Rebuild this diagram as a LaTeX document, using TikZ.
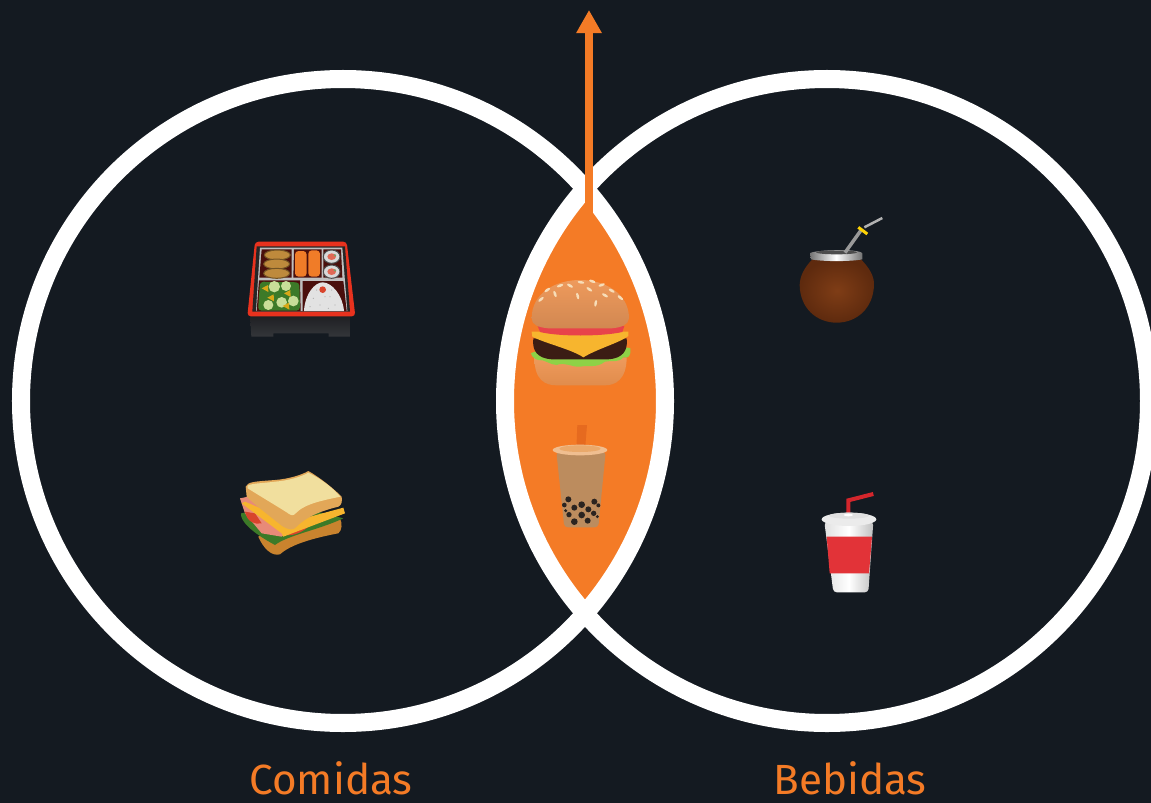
\documentclass[tikz,border=0pt]{standalone}
\usepackage{fontspec}
\setmainfont{Fira Sans}
\usepackage{xcolor}
\usepackage{tikz}
\usetikzlibrary{arrows.meta}

\definecolor{bgdark}{HTML}{141A21}
\definecolor{vennorange}{HTML}{F47B26}
\definecolor{boxred}{HTML}{E8321E}
\definecolor{boxdark}{HTML}{4A0F0C}
\definecolor{boxbase}{HTML}{34363A}
\definecolor{boxbasetop}{HTML}{1C1D20}
\definecolor{friedgold}{HTML}{BE8A3C}
\definecolor{sushiorange}{HTML}{F07C28}
\definecolor{leafgreen}{HTML}{3C7A28}
\definecolor{saladlight}{HTML}{C8DE98}
\definecolor{saladyellow}{HTML}{D8A818}
\definecolor{ricewhite}{HTML}{E2E2E2}
\definecolor{breadface}{HTML}{F1DF9E}
\definecolor{breadcrust}{HTML}{E2A758}
\definecolor{breadlow}{HTML}{C9832E}
\definecolor{hampink}{HTML}{E88A78}
\definecolor{tomatored}{HTML}{D8442C}
\definecolor{cheeseyellow}{HTML}{F7B52E}
\definecolor{buntop}{HTML}{EE9A5C}
\definecolor{bunlow}{HTML}{E08C4C}
\definecolor{seedcream}{HTML}{F7DDB8}
\definecolor{lettucegreen}{HTML}{8ED246}
\definecolor{pattybrown}{HTML}{3B1D14}
\definecolor{burgerred}{HTML}{E8434A}
\definecolor{strawtea}{HTML}{E66A1F}
\definecolor{teadark}{HTML}{BC8C5E}
\definecolor{tealight}{HTML}{E6BC88}
\definecolor{lidtea}{HTML}{F0BE90}
\definecolor{pearldark}{HTML}{2B2420}
\definecolor{matecenter}{HTML}{7F3D16}
\definecolor{mateouter}{HTML}{5E2A0E}
\definecolor{sodared}{HTML}{E23338}
\definecolor{strawred}{HTML}{D4262C}

\tikzset{
  vennring/.style={draw=white, line width=0.18cm},
  vennlabel/.style={text=vennorange, anchor=base, inner sep=0pt, font=\fontsize{12}{14}\selectfont},
  rollpiece/.style={fill=white!85!black, draw=black!70, line width=0.01cm},
  seedmark/.style={fill=seedcream},
  pearlmark/.style={fill=pearldark}
}

\begin{document}
\begin{tikzpicture}[x=0.01cm,y=-0.01cm]
  \useasboundingbox (0,0) rectangle (1151,803);
  \clip (0,0) rectangle (1151,803);
  \fill[bgdark] (0,0) rectangle (1151,803);

  % Lens
  \begin{scope}
    \clip (343,401) circle (322);
    \fill[vennorange] (827,401) circle (322);
  \end{scope}

  % Circles
  \draw[vennring] (343,401) circle (322);
  \draw[vennring] (827,401) circle (322);

  % Arrow
  \coordinate (arrowtail) at (589,215);
  \coordinate (arrowtip) at (589,10);
  \draw[vennorange, line width=0.08cm, -{Triangle[length=0.23cm, width=0.24cm]}] (arrowtail) -- (arrowtip);

  % Labels
  \node[vennlabel] (comidas) at (331,794) {Comidas};
  \node[vennlabel] (bebidas) at (850,794) {Bebidas};

  % Bento box
  \begin{scope}[shift={(230,225)}, scale=1/3]
    \shade[top color=boxbasetop, bottom color=boxbase] (60,265) -- (360,265) -- (360,335) -- (296,335) -- (296,325) -- (130,325) -- (130,335) -- (64,335) -- cycle;
    \fill[boxred, rounded corners=1pt] (75,50) -- (350,50) -- (376,274) -- (52,274) -- cycle;
    \fill[black!85] (80,64) -- (345,64) -- (360,260) -- (67,260) -- cycle;
    \fill[black!25] (90,68) -- (337,68) -- (352,258) -- (78,258) -- cycle;
    \fill[boxdark] (95,73) -- (185,73) -- (185,158) -- (88,158) -- cycle;
    \fill[boxdark] (192,73) -- (275,73) -- (275,158) -- (190,158) -- cycle;
    \fill[boxdark] (280,73) -- (333,73) -- (337,158) -- (280,158) -- cycle;
    \fill[boxdark] (87,166) -- (210,166) -- (212,258) -- (80,258) -- cycle;
    \fill[boxdark] (218,168) -- (340,168) -- (350,258) -- (218,258) -- cycle;
    \foreach \fy/\fx in {90/142, 117/140, 145/140}
      \filldraw[fill=friedgold, draw=friedgold!60!black, line width=0.01cm] (\fx,\fy) ellipse (39 and 15);
    \fill[sushiorange, rounded corners=1pt] (195,78) rectangle (230,155);
    \fill[sushiorange, rounded corners=1pt] (235,76) rectangle (270,155);
    \foreach \ry in {95,140} {
      \draw[rollpiece] (305,\ry) ellipse (25 and 20);
      \fill[tomatored!80!white] (305,\ry) ellipse (13 and 10);
      \fill[leafgreen!70] (315,\ry-4) circle (4);
    }
    \fill[leafgreen, rounded corners=1pt] (90,170) -- (208,172) -- (210,257) -- (84,257) -- cycle;
    \foreach \lx/\ly/\lr in {133/185/17, 168/183/15, 115/240/15, 155/232/16, 190/228/16}
      \fill[saladlight] (\lx,\ly) circle (\lr);
    \foreach \lx/\ly in {105/190, 122/218, 172/205, 168/243}
      \fill[saladyellow] (\lx-10,\ly) -- (\lx+9,\ly-10) -- (\lx+10,\ly+11) -- cycle;
    \fill[ricewhite] (222,258) .. controls (225,205) and (255,172) .. (278,172) .. controls (305,172) and (338,210) .. (342,258) -- cycle;
    \foreach \kx/\ky in {250/220, 270/240, 300/215, 315/240, 285/215, 240/245, 295/250, 260/195, 305/195}
      \fill[black!30] (\kx,\ky) circle (2);
    \fill[tomatored] (278,194) circle (10);
  \end{scope}

  % Sandwich
  \begin{scope}[shift={(225,455)}, scale=1/3]
    \fill[breadlow] (100,245) .. controls (115,280) and (140,305) .. (165,298) .. controls (195,270) and (260,250) .. (340,235) .. controls (352,225) and (352,205) .. (345,190) -- (200,180) -- cycle;
    \fill[leafgreen] (48,175) .. controls (45,200) and (85,235) .. (150,270) .. controls (190,240) and (280,225) .. (355,190) -- (200,150) -- cycle;
    \fill[hampink] (45,130) -- (70,125) -- (240,190) -- (170,245) -- (110,235) -- (60,175) -- cycle;
    \fill[tomatored] (60,170) .. controls (65,200) and (90,210) .. (110,205) -- (90,175) -- cycle;
    \fill[tomatored] (180,240) .. controls (210,245) and (240,225) .. (250,215) -- (200,215) -- cycle;
    \fill[cheeseyellow] (50,145) -- (170,235) -- (175,245) -- (360,175) -- (355,158) -- (200,200) -- (60,140) -- cycle;
    \fill[breadcrust] (62,95) .. controls (70,80) and (85,80) .. (150,75) .. controls (190,72) and (230,60) .. (250,48) .. controls (280,65) and (320,95) .. (350,125) .. controls (352,140) and (350,150) .. (340,155) .. controls (300,165) and (250,180) .. (215,215) .. controls (205,228) and (190,225) .. (170,212) .. controls (130,180) and (90,150) .. (65,125) -- cycle;
    \fill[breadface] (68,92) .. controls (80,85) and (110,85) .. (150,80) .. controls (190,77) and (230,65) .. (250,53) .. controls (285,70) and (320,95) .. (346,125) .. controls (300,135) and (240,145) .. (212,175) .. controls (205,185) and (195,180) .. (185,172) .. controls (150,150) and (100,120) .. (68,100) -- cycle;
  \end{scope}

  % Burger
  \begin{scope}[shift={(515,270)}, scale=1/3]
    \shade[top color=buntop, bottom color=bunlow] (58,262) -- (335,262) .. controls (335,330) and (300,346) .. (270,346) -- (125,346) .. controls (90,346) and (58,330) .. (58,262) -- cycle;
    \fill[lettucegreen] (48,250) .. controls (60,235) and (330,225) .. (346,235) .. controls (348,260) and (340,265) .. (325,262) .. controls (310,280) and (290,270) .. (270,275) .. controls (245,295) and (220,285) .. (195,290) .. controls (170,292) and (150,275) .. (125,285) .. controls (105,285) and (90,268) .. (70,270) .. controls (60,268) and (50,260) .. (48,250) -- cycle;
    \fill[pattybrown] (55,205) -- (335,205) .. controls (340,245) and (320,265) .. (280,268) -- (110,268) .. controls (70,265) and (50,245) .. (55,205) -- cycle;
    \fill[cheeseyellow] (50,185) -- (340,185) -- (340,198) .. controls (310,220) and (250,235) .. (205,262) .. controls (170,238) and (90,220) .. (52,200) -- cycle;
    \fill[burgerred] (68,168) -- (328,168) -- (322,186) .. controls (260,200) and (130,200) .. (75,186) -- cycle;
    \shade[top color=buntop, bottom color=buntop!88!black] (50,145) .. controls (50,70) and (120,30) .. (195,30) .. controls (270,30) and (342,70) .. (342,145) .. controls (340,165) and (320,172) .. (290,175) -- (100,175) .. controls (70,172) and (50,165) .. (50,145) -- cycle;
    \foreach \sx/\sy/\sa in {135/47/20, 165/47/-30, 198/37/-10, 232/34/-20, 260/45/20, 290/62/-30, 223/58/-35, 270/76/-30, 188/78/-75, 316/83/-40, 242/100/80, 120/72/-70, 97/60/35, 78/88/40}
      \fill[seedmark, rotate around={\sa:(\sx,\sy)}] (\sx,\sy) ellipse (10 and 4);
  \end{scope}

  % Bubble tea
  \begin{scope}[shift={(535,420)}, scale=1/3]
    \fill[strawtea] (127,15) -- (156,15) -- (150,90) -- (124,90) -- cycle;
    \shade[top color=teadark, middle color=tealight, bottom color=teadark, rounded corners=1pt] (64,95) -- (212,95) -- (190,322) -- (88,322) -- cycle;
    \fill[lidtea] (135,90) ellipse (82 and 16);
    \fill[tealight!70!vennorange] (135,86) ellipse (62 and 10);
    \foreach \px/\py/\pr in {100/238/9, 88/255/7, 118/263/9, 140/254/10, 178/245/9, 190/256/6, 160/268/9, 102/284/8, 140/285/10, 176/280/8, 187/290/5, 118/305/10, 158/302/9, 92/272/5}
      \fill[pearlmark] (\px,\py) circle (\pr);
  \end{scope}

  % Mate
  \begin{scope}[shift={(785,210)}, scale=1/3]
    \shade[inner color=matecenter, outer color=mateouter] (85,145) -- (225,145) .. controls (255,175) and (268,200) .. (267,225) .. controls (265,295) and (215,338) .. (155,338) .. controls (95,338) and (45,295) .. (44,225) .. controls (45,200) and (55,175) .. (85,145) -- cycle;
    \shade[left color=black!55, right color=black!55, middle color=white] (75,130) .. controls (80,120) and (225,115) .. (232,130) -- (232,148) .. controls (200,155) and (110,155) .. (78,148) -- cycle;
    \fill[black!70] (155,127) ellipse (62 and 6);
    \draw[black!40, line width=0.035cm] (180,128) -- (230,58);
    \draw[black!30, line width=0.025cm] (238,52) -- (292,24);
    \draw[yellow!70!orange, line width=0.03cm] (220,52) -- (247,72);
  \end{scope}

  % Soda cup
  \begin{scope}[shift={(805,485)}, scale=1/3]
    \draw[strawred, line width=0.04cm] (130,90) -- (130,46) -- (205,27);
    \shade[left color=black!12, right color=black!25, middle color=white, rounded corners=1pt] (58,110) -- (205,110) -- (190,322) -- (85,322) -- cycle;
    \fill[sodared] (65,155) -- (201,155) -- (192,265) -- (74,265) -- cycle;
    \fill[white!92!black] (132,103) ellipse (82 and 20);
    \fill[black!12] (132,92) ellipse (60 and 9);
    \fill[white] (130,90) ellipse (14 and 4);
  \end{scope}
\end{tikzpicture}
\end{document}
